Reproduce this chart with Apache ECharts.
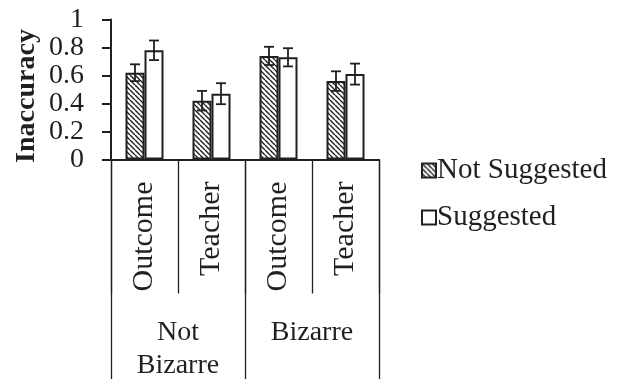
<!DOCTYPE html>
<html>
<head>
<meta charset="utf-8">
<script src="https://cdn.jsdelivr.net/npm/echarts@6/dist/echarts.min.js"></script>
<style>
  html, body { margin: 0; padding: 0; background: #fff; }
  #chart { width: 627px; height: 379px; }
</style>
</head>
<body>
<div id="chart"></div>
<script>
// Inaccuracy by question type, bizarreness and suggestion condition
const categories = ['Outcome', 'Teacher', 'Outcome', 'Teacher'];
const groups = ['Not\nBizarre', 'Bizarre'];
const seriesNames = ['Not Suggested', 'Suggested'];
const notSuggested = [0.62, 0.42, 0.74, 0.56];
const suggested = [0.78, 0.47, 0.73, 0.61];
const notSuggestedErr = [0.06, 0.07, 0.065, 0.07];
const suggestedErr = [0.07, 0.075, 0.065, 0.075];

const INK = '#231f20';
const FONT = '"Liberation Serif", "Times New Roman", serif';
const BAR_W = 19;

// diagonal hatch fill for the "Not Suggested" bars
function hatchPattern() {
  const s = 5;
  const c = document.createElement('canvas');
  c.width = s; c.height = s;
  const ctx = c.getContext('2d');
  ctx.fillStyle = '#fff';
  ctx.fillRect(0, 0, s, s);
  ctx.strokeStyle = INK;
  ctx.lineWidth = 1.4;
  ctx.beginPath();
  [-s, 0, s].forEach(k => { ctx.moveTo(k, 0); ctx.lineTo(k + s, s); });
  ctx.stroke();
  return c;
}

// error bars drawn at each bar centre (offset = half a bar to either side)
function errorSeries(values, errs, side) {
  return {
    type: 'custom',
    xAxisIndex: 0,
    yAxisIndex: 0,
    silent: true,
    z: 5,
    data: values.map((v, i) => [i, v - errs[i], v + errs[i]]),
    renderItem: function (params, api) {
      const lo = api.coord([api.value(0), api.value(1)]);
      const hi = api.coord([api.value(0), api.value(2)]);
      const x = lo[0] + side * BAR_W / 2;
      const cap = 5;
      const style = { stroke: INK, lineWidth: 1.8, fill: null };
      return {
        type: 'group',
        children: [
          { type: 'line', shape: { x1: x, y1: lo[1], x2: x, y2: hi[1] }, style: style },
          { type: 'line', shape: { x1: x - cap, y1: hi[1], x2: x + cap, y2: hi[1] }, style: style },
          { type: 'line', shape: { x1: x - cap, y1: lo[1], x2: x + cap, y2: lo[1] }, style: style }
        ]
      };
    }
  };
}

const chart = echarts.init(document.getElementById('chart'), null, { renderer: 'canvas' });

chart.setOption({
  animation: false,
  backgroundColor: '#fff',
  textStyle: { fontFamily: FONT, color: INK },
  grid: {
    left: 111, right: 248, top: 19.5, bottom: 219.5,
    containLabel: false,
    outerBoundsMode: 'none'
  },
  legend: {
    orient: 'vertical',
    left: 416,
    top: 151,
    itemWidth: 14,
    itemHeight: 14,
    itemGap: 18,
    icon: 'rect',
    data: seriesNames,
    textStyle: { fontFamily: FONT, fontSize: 29, color: INK, padding: [0, 0, 0, -4] }
  },
  graphic: [{
    type: 'text',
    x: 27,
    y: 96,
    rotation: Math.PI / 2,
    style: {
      text: 'Inaccuracy',
      font: 'bold 28px ' + FONT,
      fill: INK,
      align: 'center',
      verticalAlign: 'middle'
    }
  }],
  xAxis: [{
    type: 'category',
    data: categories,
    position: 'bottom',
    offset: 0,
    axisLine: { show: true, lineStyle: { color: INK, width: 2 } },
    axisTick: { show: true, alignWithLabel: false, interval: 0, length: 134, lineStyle: { color: INK, width: 1.3 } },
    axisLabel: { rotate: 90, margin: 22, interval: 0, fontSize: 30, fontFamily: FONT, color: INK }
  }, {
    type: 'category',
    data: groups,
    position: 'bottom',
    offset: 0,
    axisLine: { show: false },
    axisTick: { show: true, alignWithLabel: false, interval: 0, length: 220, lineStyle: { color: INK, width: 1.3 } },
    axisLabel: { margin: 157, interval: 0, fontSize: 28, lineHeight: 33, fontFamily: FONT, color: INK, verticalAlign: 'top' }
  }],
  yAxis: {
    type: 'value',
    position: 'left',
    min: 0,
    max: 1,
    interval: 0.2,
    splitLine: { show: false },
    axisLine: { show: true, onZero: false, lineStyle: { color: INK, width: 2 } },
    axisTick: { show: true, inside: false, length: 9, lineStyle: { color: INK, width: 2 } },
    axisLabel: { margin: 27, showMinLabel: true, showMaxLabel: true, hideOverlap: false, fontSize: 28, fontFamily: FONT, color: INK }
  },
  series: [{
    name: seriesNames[0],
    type: 'bar',
    xAxisIndex: 0,
    barWidth: BAR_W,
    barGap: '0%',
    data: notSuggested,
    itemStyle: { color: { image: hatchPattern(), repeat: 'repeat' }, borderColor: INK, borderWidth: 2 }
  }, {
    name: seriesNames[1],
    type: 'bar',
    xAxisIndex: 0,
    barWidth: BAR_W,
    barGap: '0%',
    data: suggested,
    itemStyle: { color: '#fff', borderColor: INK, borderWidth: 2 }
  },
  errorSeries(notSuggested, notSuggestedErr, -1),
  errorSeries(suggested, suggestedErr, 1)
  ]
});
</script>
</body>
</html>
